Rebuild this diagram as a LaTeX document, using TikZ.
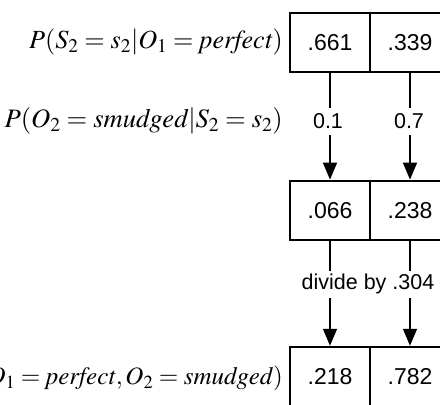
\documentclass[tikz,border=0pt]{standalone}
\usepackage{mathptmx}
\usepackage[no-math]{fontspec}
\newfontfamily\hv{Liberation Sans}
\usetikzlibrary{arrows.meta}
\tikzset{
  cell/.style={draw, line width=2pt, minimum width=80pt, minimum height=59.5pt, inner sep=0pt, font=\hv\fontsize{23}{27}\selectfont},
  lbl/.style={fill=white, inner sep=0pt, minimum height=27pt, font=\hv\fontsize{21.5}{25}\selectfont},
  mlbl/.style={anchor=east, inner sep=0pt},
  arr/.style={line width=1.5pt, -{Triangle[width=14pt,length=17pt]}}
}
\begin{document}
\begin{tikzpicture}[x=1pt,y=-1pt]
\useasboundingbox (0,0) rectangle (440,405);
\clip (0,0) rectangle (440,405);
% boxes
\node[cell] (a1) at (330,42.25) {.661};
\node[cell] (a2) at (410,42.25) {.339};
\node[cell] (b1) at (330,210.35) {.066};
\node[cell] (b2) at (410,210.35) {.238};
\node[cell] (c1) at (330,376.5) {.218};
\node[cell] (c2) at (410,376.5) {.782};
% connectors
\draw[arr] (a1.south) -- (b1.north);
\draw[arr] (a2.south) -- (b2.north);
\draw[arr] (b1.south) -- (c1.north);
\draw[arr] (b2.south) -- (c2.north);
% labels on connectors
\node[lbl] (l1) at (328,121) {0.1};
\node[lbl] (l2) at (409,121) {0.7};
\node[lbl] (l3) at (368,284) {divide by .304};
% left labels
\node[mlbl, font=\fontsize{26.2}{31}\selectfont] (m1) at (283,42) {$P(S_2=s_2|O_1=\mathit{perfect})$};
\node[mlbl, font=\fontsize{26.6}{31}\selectfont] (m2) at (283,121) {$P(O_2=\mathit{smudged}|S_2=s_2)$};
\node[mlbl, font=\fontsize{25}{30}\selectfont] (m3) at (283,378) {$P(S_2=s_2|O_1=\mathit{perfect},O_2=\mathit{smudged})$};
\end{tikzpicture}
\end{document}
